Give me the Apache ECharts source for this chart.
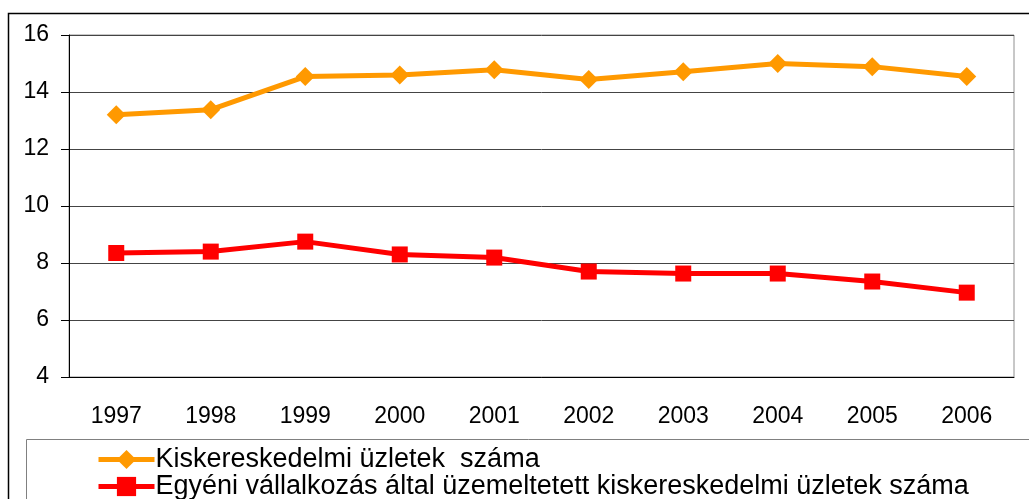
<!DOCTYPE html>
<html>
<head>
<meta charset="utf-8">
<script src="https://cdn.jsdelivr.net/npm/echarts@6/dist/echarts.min.js"></script>
<style>
html,body{margin:0;padding:0;background:#fff;}
#chart{width:1029px;height:499px;}
</style>
</head>
<body>
<div id="chart"></div>
<script>
// évek és a két adatsor (leolvasva az ábráról)
let years = ['1997','1998','1999','2000','2001','2002','2003','2004','2005','2006'];
let uzletek = [13.2, 13.38, 14.54, 14.6, 14.78, 14.44, 14.71, 15.0, 14.89, 14.54];
let egyeni = [8.35, 8.4, 8.75, 8.3, 8.19, 7.7, 7.63, 7.63, 7.35, 6.96];
let nameUzletek = 'Kiskereskedelmi üzletek  száma';
let nameEgyeni = 'Egyéni vállalkozás által üzemeltetett kiskereskedelmi üzletek száma';

let font = '"Liberation Sans", Arial, sans-serif';
let myChart = echarts.init(document.getElementById('chart'));
let option = {
    animation: false,
    graphic: [
        {
            type: 'rect',
            shape: {x: 8.5, y: 13.5, width: 1200, height: 700},
            style: {fill: 'none', stroke: '#000', lineWidth: 1.5},
            silent: true
        },
        {
            type: 'rect',
            shape: {x: 26.5, y: 439.5, width: 1200, height: 200},
            style: {fill: 'none', stroke: '#808080', lineWidth: 1},
            silent: true
        }
    ],
    grid: {
        left: 69,
        top: 35,
        right: 15,
        height: 342,
        show: true,
        borderColor: '#909090',
        borderWidth: 1
    },
    legend: {
        orient: 'vertical',
        left: 96,
        top: 446,
        height: 120,
        padding: 0,
        itemWidth: 56,
        itemHeight: 24,
        itemGap: 0,
        lineStyle: {width: 5},
        textStyle: {fontFamily: font, fontSize: 27, lineHeight: 24, color: '#000', padding: [0, 0, 0, -4]},
        data: [nameUzletek, nameEgyeni]
    },
    xAxis: {
        type: 'category',
        data: years,
        boundaryGap: true,
        axisLine: {lineStyle: {color: '#000', width: 1}},
        axisTick: {length: 8, lineStyle: {color: '#000'}},
        axisLabel: {fontFamily: font, fontSize: 23, color: '#000', margin: 28}
    },
    yAxis: {
        type: 'value',
        min: 4,
        max: 16,
        interval: 2,
        axisLine: {show: true, lineStyle: {color: '#000', width: 1}},
        axisTick: {show: true, length: 8, lineStyle: {color: '#000'}},
        axisLabel: {fontFamily: font, fontSize: 23, color: '#000', margin: 20},
        splitLine: {lineStyle: {color: '#444', width: 1}}
    },
    series: [
        {
            name: nameUzletek,
            type: 'line',
            data: uzletek,
            symbol: 'diamond',
            symbolSize: 19,
            lineStyle: {color: '#FF9900', width: 5},
            itemStyle: {color: '#FF9900'}
        },
        {
            name: nameEgyeni,
            type: 'line',
            data: egyeni,
            symbol: 'rect',
            symbolSize: 16,
            lineStyle: {color: '#FF0000', width: 5},
            itemStyle: {color: '#FF0000'}
        }
    ]
};
myChart.setOption(option);
</script>
</body>
</html>
